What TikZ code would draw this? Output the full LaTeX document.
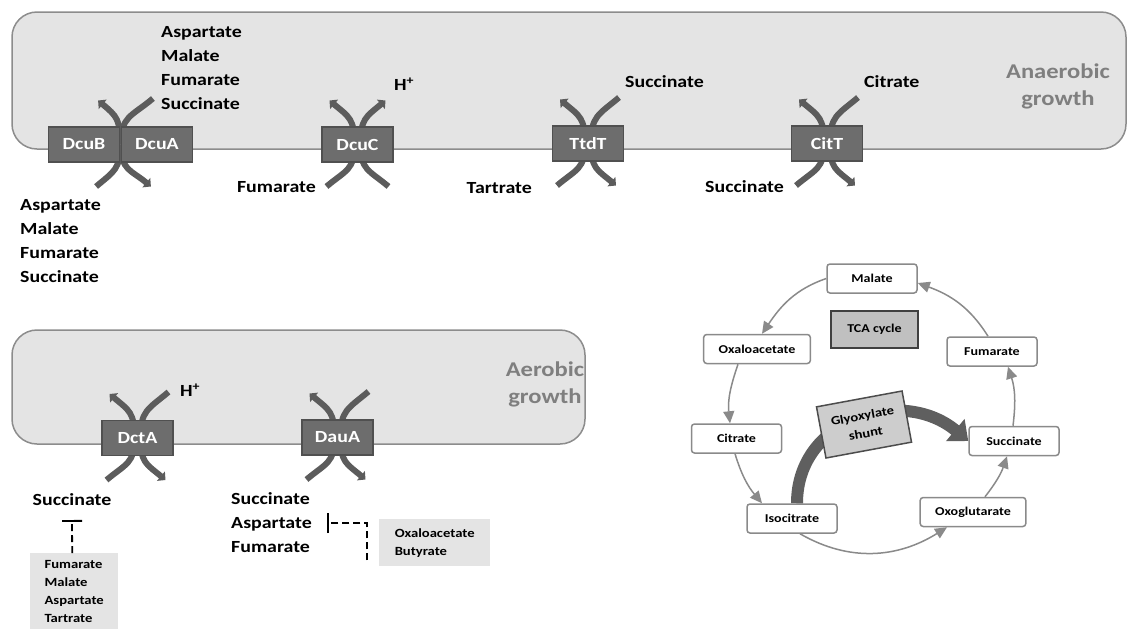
\documentclass[tikz,border=0pt]{standalone}
\usepackage{fontspec}
\setmainfont{Carlito}[FakeStretch=1.17]
\usetikzlibrary{arrows.meta}

\definecolor{membrane}{HTML}{E4E4E4}
\definecolor{membraneedge}{HTML}{8C8C8C}
\definecolor{porterfill}{HTML}{6D6D6D}
\definecolor{porteredge}{HTML}{505050}
\definecolor{armgray}{HTML}{5C5C5C}
\definecolor{labelgray}{HTML}{7F7F7F}
\definecolor{cyclegray}{HTML}{8A8A8A}
\definecolor{boxgray}{HTML}{C0C0C0}
\definecolor{shuntgray}{HTML}{5F5F5F}

\tikzset{
  membr/.style={draw=membraneedge, fill=membrane, line width=1.5pt, rounded corners=25pt},
  porter/.style={draw=porteredge, fill=porterfill, line width=1.2pt, minimum width=71pt,
    minimum height=35pt, inner sep=0pt, text=white, font=\bfseries\fontsize{17}{20}\selectfont},
  arm/.style={draw=armgray, line width=6pt, looseness=1.3},
  armhead/.style={arm, -{Triangle[length=6pt,width=12pt]}},
  lbl/.style={inner sep=0pt, align=left, font=\bfseries\fontsize{17}{24}\selectfont},
  growth/.style={inner sep=0pt, align=center, text=labelgray, font=\bfseries\fontsize{21}{27}\selectfont},
  inhbox/.style={fill=membrane, inner xsep=10pt, inner ysep=7pt, align=left,
    font=\bfseries\fontsize{12.5}{18}\selectfont},
  inhib/.style={line width=1.8pt, dash pattern=on 7pt off 4pt, -{Bar[width=20pt,line width=1.8pt]}},
  met/.style={draw=cyclegray, fill=white, line width=1.5pt, rounded corners=3pt, minimum width=90pt,
    minimum height=29pt, inner xsep=15pt, font=\bfseries\fontsize{12}{14}\selectfont},
  cyc/.style={draw=cyclegray, line width=1.5pt, -{Triangle[length=12pt,width=11pt]}},
}

\begin{document}
\begin{tikzpicture}[x=1pt,y=1pt]
\useasboundingbox (0,0) rectangle (1129,-630);

% membranes
\draw[membr] (12,-12) rectangle (1126,-149);
\draw[membr] (12,-330) rectangle (585,-444);

% transporters, anaerobic
\node[porter] (dcub) at (84,-144.5) {DcuB};
\node[porter] (dcua) at (157,-144.5) {DcuA};
\node[porter] (dcuc) at (357.5,-144.5) {DcuC};
\node[porter] (ttdt) at (588,-143.5) {TtdT};
\node[porter] (citt) at (827,-143.5) {CitT};
% transporters, aerobic
\node[porter] (dcta) at (137.5,-438) {DctA};
\node[porter] (daua) at (337.5,-437.5) {DauA};

% curved arms
\draw[armhead] (dcub.east) to[out=90,in=-40] ++(-22,44);
\draw[arm] (dcub.east) to[out=-90,in=40] ++(-24,-42);
\draw[arm] (dcua.west) to[out=90,in=220] ++(32,46);
\draw[armhead] (dcua.west) to[out=-90,in=140] ++(30,-42);

\draw[armhead] ([xshift=-3pt]dcuc.center) to[out=90,in=-40] ++(-25,44);
\draw[armhead] ([xshift=3pt]dcuc.center) to[out=90,in=220] ++(25,44);
\draw[arm] ([xshift=-3pt]dcuc.center) to[out=-90,in=40] ++(-28,-42);
\draw[arm] ([xshift=3pt]dcuc.center) to[out=-90,in=140] ++(28,-42);

\draw[armhead] ([xshift=-3pt]ttdt.center) to[out=90,in=-40] ++(-25,44);
\draw[arm] ([xshift=3pt]ttdt.center) to[out=90,in=220] ++(28,46);
\draw[arm] ([xshift=-3pt]ttdt.center) to[out=-90,in=40] ++(-28,-42);
\draw[armhead] ([xshift=3pt]ttdt.center) to[out=-90,in=140] ++(25,-42);

\draw[armhead] ([xshift=-3pt]citt.center) to[out=90,in=-40] ++(-25,44);
\draw[arm] ([xshift=3pt]citt.center) to[out=90,in=220] ++(28,46);
\draw[arm] ([xshift=-3pt]citt.center) to[out=-90,in=40] ++(-28,-42);
\draw[armhead] ([xshift=3pt]citt.center) to[out=-90,in=140] ++(25,-42);

\draw[armhead] ([xshift=-3pt]dcta.center) to[out=90,in=-40] ++(-25,44);
\draw[arm] ([xshift=3pt]dcta.center) to[out=90,in=220] ++(28,46);
\draw[arm] ([xshift=-3pt]dcta.center) to[out=-90,in=40] ++(-28,-42);
\draw[armhead] ([xshift=3pt]dcta.center) to[out=-90,in=140] ++(25,-42);

\draw[armhead] ([xshift=-3pt]daua.center) to[out=90,in=-40] ++(-25,44);
\draw[arm] ([xshift=3pt]daua.center) to[out=90,in=220] ++(28,46);
\draw[arm] ([xshift=-3pt]daua.center) to[out=-90,in=40] ++(-28,-42);
\draw[armhead] ([xshift=3pt]daua.center) to[out=-90,in=140] ++(25,-42);

% boxes again on top of the arms
\node[porter] at (dcub) {DcuB};
\node[porter] at (dcua) {DcuA};
\node[porter] at (dcuc) {DcuC};
\node[porter] at (ttdt) {TtdT};
\node[porter] at (citt) {CitT};
\node[porter] at (dcta) {DctA};
\node[porter] at (daua) {DauA};

% substrates, anaerobic
\node[lbl, anchor=west] (dcuout) at (161,-68) {Aspartate\\Malate\\Fumarate\\Succinate};
\node[lbl, anchor=west] (dcuin) at (20,-241.5) {Aspartate\\Malate\\Fumarate\\Succinate};
\node[lbl] (dcuch) at (404,-84) {H\textsuperscript{+}};
\node[lbl, anchor=east] (dcucin) at (316,-187) {Fumarate};
\node[lbl, anchor=west] (ttdtout) at (625,-82) {Succinate};
\node[lbl, anchor=east] (ttdtin) at (532,-188) {Tartrate};
\node[lbl, anchor=west] (cittout) at (864,-82) {Citrate};
\node[lbl, anchor=east] (cittin) at (784,-187) {Succinate};
\node[growth] (anaer) at (1058,-86) {Anaerobic\\growth};

% substrates, aerobic
\node[lbl] (dctah) at (190,-390) {H\textsuperscript{+}};
\node[lbl] (dctsucc) at (72,-500) {Succinate};
\node[lbl, anchor=west] (dauout) at (231,-523) {Succinate\\Aspartate\\Fumarate};
\node[growth] (aer) at (545,-384) {Aerobic\\growth};

% inhibitors
\node[inhbox, anchor=north west, minimum width=88pt] (dctinh) at (30,-553)
  {Fumarate\\Malate\\Aspartate\\Tartrate};
\node[inhbox, anchor=north west, minimum width=111pt, minimum height=47pt] (dauinh) at (379,-519)
  {Oxaloacetate\\Butyrate};
\draw[inhib] ([xshift=-2pt]dctinh.north) -- ([yshift=-20pt]dctsucc.center);
\draw[inhib] ([shift={(-12pt,6pt)}]dauinh.south west) |- ([xshift=15pt]dauout.east);

% TCA cycle
\node[met] (malate) at (872,-278.5) {Malate};
\node[met] (oxalo) at (757,-349) {Oxaloacetate};
\node[met] (fumar) at (992,-351.5) {Fumarate};
\node[met] (citr) at (736.5,-438.5) {Citrate};
\node[met] (succ) at (1014,-441) {Succinate};
\node[met] (isocit) at (792,-518.5) {Isocitrate};
\node[met] (oxoglu) at (973,-512) {Oxoglutarate};
\node[draw=black!75, fill=boxgray, line width=1.5pt, minimum width=87pt, minimum height=37pt,
  font=\bfseries\fontsize{12}{14}\selectfont] (tca) at (874.5,-329.5) {TCA cycle};

\draw[cyc] (malate.west) to[out=199,in=56] ([xshift=5pt]oxalo.north);
\draw[cyc] ([xshift=-19pt]oxalo.south) to[out=251,in=96] ([xshift=-6.5pt]citr.north);
\draw[cyc] ([xshift=-1.5pt]citr.south) to[out=287,in=130] ([xshift=-30pt]isocit.north);
\draw[cyc] ([xshift=8pt]isocit.south) to[out=-30,in=212] ([xshift=-26pt]oxoglu.south);
\draw[cyc] ([xshift=12pt]oxoglu.north) to[out=52,in=251] ([xshift=-7pt]succ.south);
\draw[cyc] ([xshift=-1pt]succ.north) to[out=83,in=288] ([xshift=16pt]fumar.south);
\draw[cyc] ([xshift=-4pt]fumar.north) to[out=122,in=340] ([yshift=-4.5pt]malate.east);

% glyoxylate shunt
\draw[draw=shuntgray, line width=12pt, -{Triangle[length=17pt,width=28pt]}]
  ([xshift=5pt]isocit.north) to[out=90,in=140,looseness=1.2] (succ.west);
\node[draw=black!70, fill=boxgray!80, line width=1.5pt, minimum width=87pt, minimum height=52pt,
  rotate=10.5, align=center, font=\bfseries\fontsize{12.5}{18}\selectfont] (shunt) at (864,-424.5)
  {Glyoxylate\\shunt};
\end{tikzpicture}
\end{document}
